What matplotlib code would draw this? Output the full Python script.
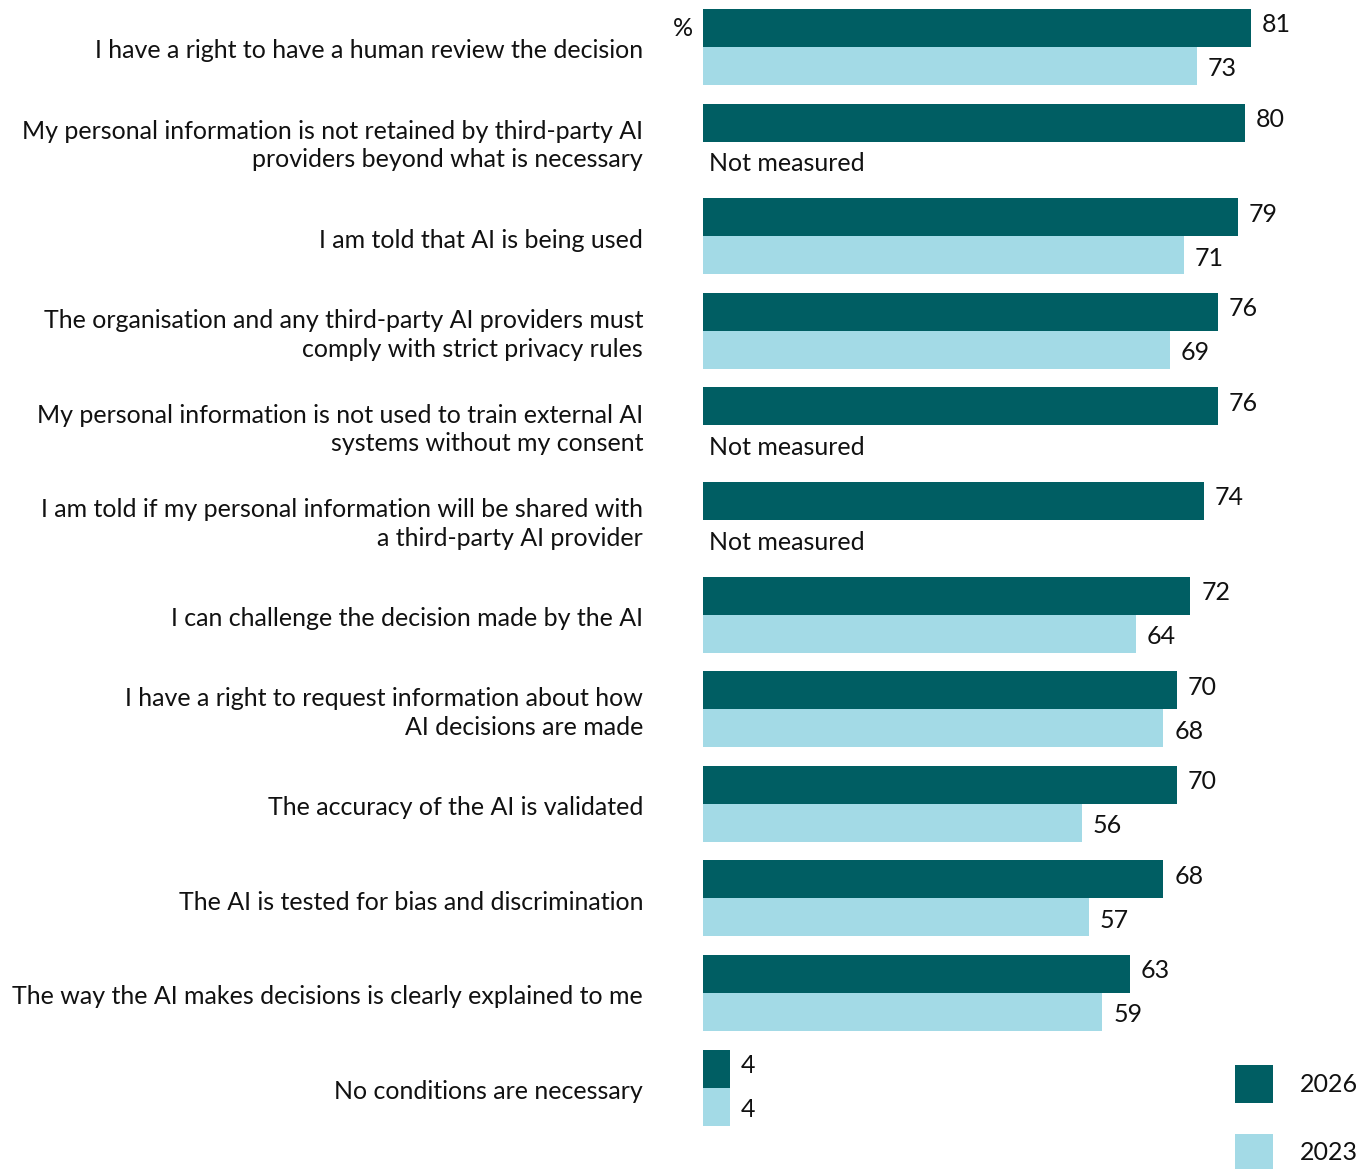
import matplotlib
matplotlib.use('Agg')
import matplotlib.pyplot as plt
from matplotlib.patches import Rectangle
import numpy as np

# Conditions, top to bottom
conditions = [
    "I have a right to have a human review the decision",
    "My personal information is not retained by third-party AI\nproviders beyond what is necessary",
    "I am told that AI is being used",
    "The organisation and any third-party AI providers must\ncomply with strict privacy rules",
    "My personal information is not used to train external AI\nsystems without my consent",
    "I am told if my personal information will be shared with\na third-party AI provider",
    "I can challenge the decision made by the AI",
    "I have a right to request information about how\nAI decisions are made",
    "The accuracy of the AI is validated",
    "The AI is tested for bias and discrimination",
    "The way the AI makes decisions is clearly explained to me",
    "No conditions are necessary",
]
values_2026 = [81, 80, 79, 76, 76, 74, 72, 70, 70, 68, 63, 4]
values_2023 = [73, None, 71, 69, None, None, 64, 68, 56, 57, 59, 4]
series_labels = ["2026", "2023"]

DARK = '#005E63'
LIGHT = '#A3DAE6'
FONT = 'Lato'
FS = 18
INK = '#111111'

W, H = 1370, 1169
fig = plt.figure(figsize=(W / 100, H / 100), dpi=100)
ax = fig.add_axes([703 / W, 0, 1 - 703 / W, 1])

px_per_unit = 6.77
pitch = 94.6
ax.set_xlim(0, (W - 703) / px_per_unit)
ax.set_ylim((H - 47) / pitch, -47 / pitch)
ax.axis('off')

y = np.arange(len(conditions))
bh = 38 / pitch
nudge = 3 / pitch  # small vertical shift for text baselines

ax.barh(y - bh / 2, values_2026, height=bh, color=DARK, linewidth=0)
light = [v if v is not None else 0 for v in values_2023]
ax.barh(y + bh / 2, light, height=bh, color=LIGHT, linewidth=0)

off = 1.6
for i, (a, b) in enumerate(zip(values_2026, values_2023)):
    ax.text(a + off, i - bh / 2 - nudge, str(a), va='center', ha='left',
            fontsize=FS, family=FONT, color=INK)
    if b is None:
        ax.text(0.9, i + bh / 2 + nudge, "Not measured", va='center', ha='left',
                fontsize=FS, family=FONT, color=INK)
    else:
        ax.text(b + off, i + bh / 2 + nudge, str(b), va='center', ha='left',
                fontsize=FS, family=FONT, color=INK)

# category labels, right aligned left of the bars
for i, lab in enumerate(conditions):
    ax.text(-60 / px_per_unit, i + 4 / pitch, lab, va='center', ha='right',
            fontsize=FS, family=FONT, color=INK, linespacing=1.3)

ax.text(-10 / px_per_unit, -bh / 2, "%", va='center', ha='right',
        fontsize=FS, family=FONT, color=INK)

# legend squares in pixel coordinates
for (top, col, lab) in [(1065, DARK, series_labels[0]), (1134, LIGHT, series_labels[1])]:
    fig.patches.append(Rectangle((1235 / W, 1 - (top + 38) / H), 38 / W, 38 / H,
                                 transform=fig.transFigure, color=col, linewidth=0))
    fig.text(1300 / W, 1 - (top + 19) / H, lab, va='center', ha='left',
             fontsize=FS, family=FONT, color=INK)

fig.savefig('out.png', dpi=100)
